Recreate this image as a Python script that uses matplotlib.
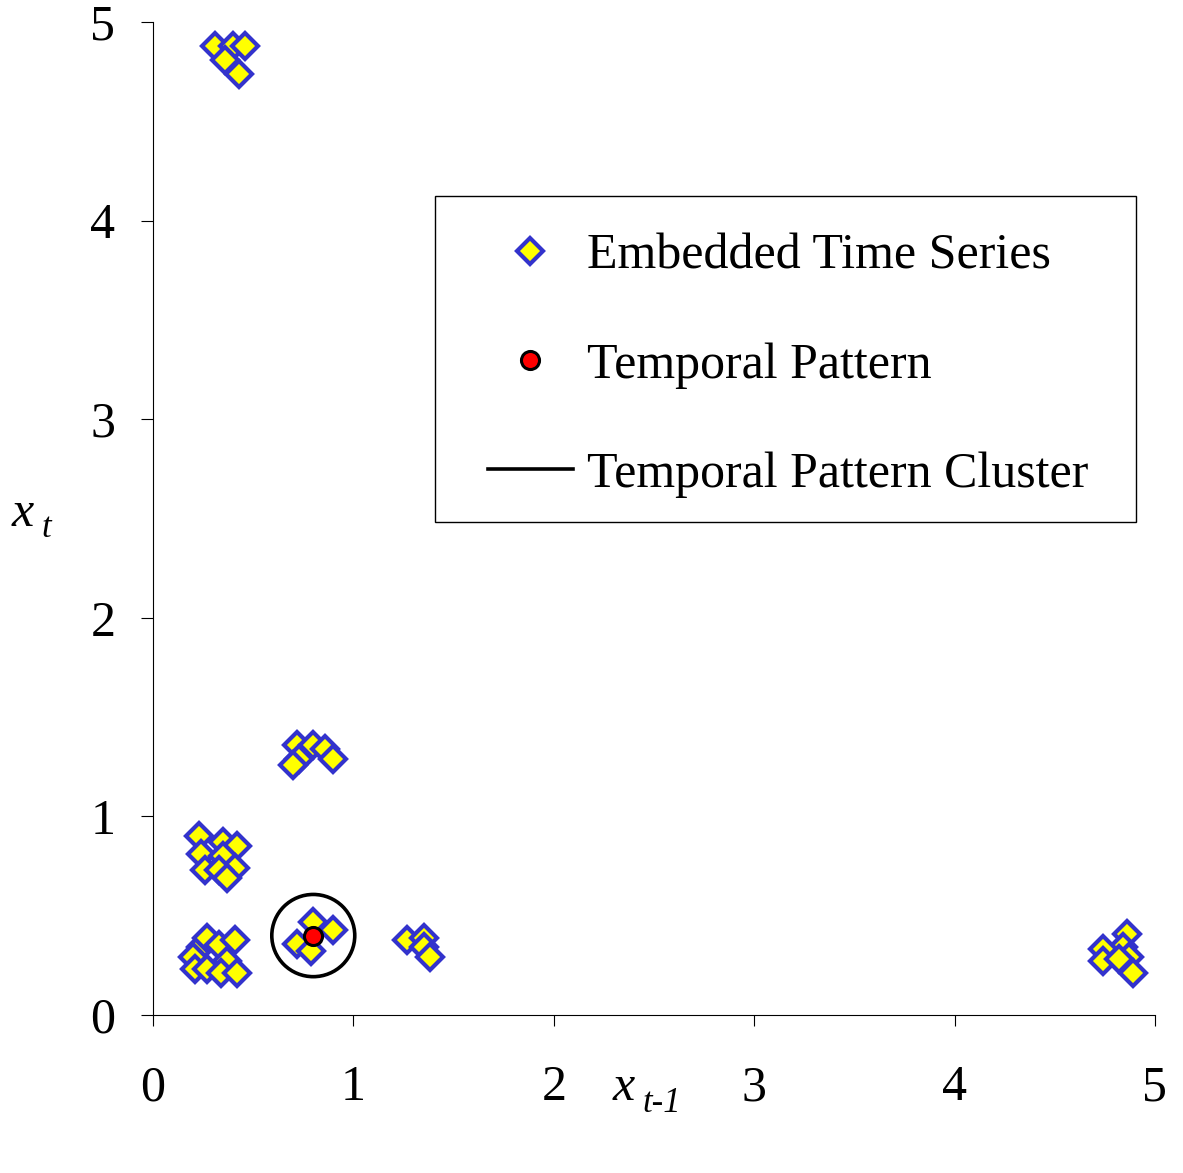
import matplotlib

matplotlib.use("Agg")

import matplotlib.pyplot as plt
from matplotlib.lines import Line2D
from matplotlib.patches import Ellipse, Rectangle

plt.rcParams["font.family"] = ["Liberation Serif", "DejaVu Serif"]

# embedded time series points (x_{t-1}, x_t)
series_x = [
    0.31, 0.40, 0.46, 0.36, 0.43,
    4.86, 4.84, 4.74, 4.87, 4.74, 4.82, 4.89,
    1.27, 1.35, 1.35, 1.38,
    0.80, 0.90, 0.72, 0.79,
    0.72, 0.80, 0.86, 0.90, 0.73, 0.70,
    0.23, 0.35, 0.42, 0.24, 0.35, 0.41, 0.26, 0.33, 0.37,
    0.24, 0.27, 0.33, 0.41, 0.20, 0.37, 0.21, 0.27, 0.34, 0.42,
]
series_y = [
    4.88, 4.88, 4.88, 4.81, 4.74,
    0.41, 0.34, 0.33, 0.29, 0.27, 0.28, 0.21,
    0.38, 0.39, 0.34, 0.29,
    0.47, 0.43, 0.36, 0.32,
    1.36, 1.36, 1.34, 1.29, 1.29, 1.26,
    0.90, 0.87, 0.85, 0.81, 0.80, 0.74, 0.73, 0.73, 0.69,
    0.34, 0.39, 0.35, 0.38, 0.29, 0.27, 0.23, 0.23, 0.21, 0.21,
]
pattern_x = [0.80]
pattern_y = [0.40]
cluster_radius = 0.207
ticks = [0, 1, 2, 3, 4, 5]
labels = ["Embedded Time Series", "Temporal Pattern", "Temporal Pattern Cluster"]

FS = 36
diamond = dict(linestyle="none", marker="D", markersize=13, markerfacecolor="#FFFF00",
               markeredgecolor="#3333CC", markeredgewidth=3)
red_dot = dict(linestyle="none", marker="o", markersize=13, markerfacecolor="#FF0000",
               markeredgecolor="black", markeredgewidth=2.2)

fig = plt.figure(figsize=(11.83, 11.73), dpi=100)
ax = fig.add_axes([0.1293, 0.1347, 0.847, 0.8465])

ax.plot(series_x, series_y, clip_on=False, zorder=3, **diamond)
ax.add_patch(Ellipse((pattern_x[0], pattern_y[0]), 2 * cluster_radius, 2 * cluster_radius,
                     fill=False, edgecolor="black", linewidth=2.6, zorder=2))
ax.plot(pattern_x, pattern_y, zorder=4, **red_dot)

ax.set_xlim(0, 5)
ax.set_ylim(0, 5)
ax.set_xticks(ticks)
ax.set_yticks(ticks)
ax.spines["top"].set_visible(False)
ax.spines["right"].set_visible(False)
ax.tick_params(axis="x", direction="out", length=8, pad=28, labelsize=FS)
ax.tick_params(axis="y", direction="out", length=9, pad=18, labelsize=FS)

fig.text(0.518, 0.062, "x", fontsize=FS, style="italic", ha="left", va="baseline")
fig.text(0.543, 0.052, "t-1", fontsize=25, style="italic", ha="left", va="baseline")
fig.text(0.010, 0.552, "x", fontsize=FS, style="italic", ha="left", va="baseline")
fig.text(0.035, 0.542, "t", fontsize=25, style="italic", ha="left", va="baseline")

# legend box drawn separately so the padding matches the original
ax.add_patch(Rectangle((0.281, 0.497), 0.700, 0.328, transform=ax.transAxes,
                       fill=True, facecolor="white", edgecolor="black",
                       linewidth=1.0, zorder=5))
handles = [
    Line2D([], [], **diamond),
    Line2D([], [], **red_dot),
    Line2D([], [], color="black", linewidth=2.6),
]
leg = ax.legend(handles, labels, loc="upper left", bbox_to_anchor=(0.3343, 0.7875),
                fontsize=FS, frameon=False, borderpad=0, labelspacing=1.25,
                handlelength=1.7, handletextpad=0.28, borderaxespad=0)
leg.set_zorder(6)

fig.savefig("out.png", dpi=100)
